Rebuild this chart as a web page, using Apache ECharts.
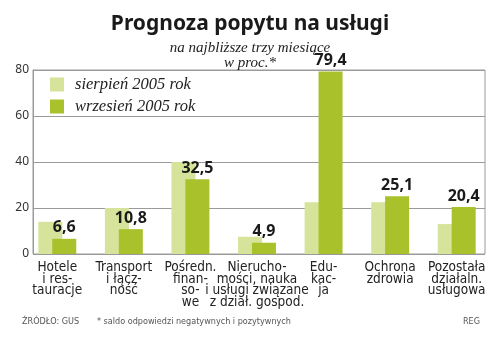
<!DOCTYPE html>
<html>
<head>
<meta charset="utf-8">
<script src="https://cdn.jsdelivr.net/npm/echarts@6/dist/echarts.min.js"></script>
<style>
html,body{margin:0;padding:0;background:#fff;}
#c{width:500px;height:337px;}
</style>
</head>
<body>
<div id="c"></div>
<script>
var categories = [
  "Hotele\ni res-\ntauracje",
  "Transport\ni łącz-\nność",
  "Pośredn.\nfinan-\nso-\nwe",
  "Nierucho-\nmości, nauka\ni usługi związane\nz dział. gospod.",
  "Edu-\nkac-\nja",
  "Ochrona\nzdrowia",
  "Pozostała\ndziałaln.\nusługowa"
];
var seriesNames = ["sierpień 2005 rok", "wrzesień 2005 rok"];
var august = [14, 20, 40, 7.5, 22.5, 22.5, 13];
var september = [6.6, 10.8, 32.5, 4.9, 79.4, 25.1, 20.4];
var yTicks = [0, 20, 40, 60, 80];

var LIGHT = '#d6e39a';
var DARK = '#a9c12b';
var labelFont = '"DejaVu Sans Condensed", "DejaVu Sans", sans-serif';

var chart = echarts.init(document.getElementById('c'), null, {renderer: 'canvas'});
chart.setOption({
  backgroundColor: '#ffffff',
  animation: false,
  title: [
    {text: 'Prognoza popytu na usługi', left: 'center', top: 9,
     textStyle: {fontFamily: '"Noto Sans", sans-serif', fontWeight: 'bold', fontSize: 21, color: '#1a1a1a'}},
    {text: 'na najbliższe trzy miesiące\nw proc.*', left: 'center', top: 36,
     textStyle: {fontFamily: '"Liberation Serif", serif', fontStyle: 'italic', fontWeight: 'normal', fontSize: 15, lineHeight: 15, color: '#222', align: 'center'}},
    {text: 'ŹRÓDŁO: GUS', left: 17, top: 312,
     textStyle: {fontFamily: labelFont, fontWeight: 'normal', fontSize: 9, color: '#555'}},
    {text: '* saldo odpowiedzi negatywnych i pozytywnych', left: 92, top: 312,
     textStyle: {fontFamily: labelFont, fontWeight: 'normal', fontSize: 9, color: '#555'}},
    {text: 'REG', right: 15, top: 312,
     textStyle: {fontFamily: labelFont, fontWeight: 'normal', fontSize: 9, color: '#555'}}
  ],
  legend: {
    data: seriesNames,
    orient: 'vertical',
    left: 45, top: 71,
    itemWidth: 14, itemHeight: 14, itemGap: 5,
    icon: 'rect',
    textStyle: {fontFamily: '"Liberation Serif", serif', fontStyle: 'italic', fontSize: 16.5, color: '#222', padding: [0,0,0,6]}
  },
  grid: [
    {left: 33, right: 15, top: 70, bottom: 83, show: true, borderColor: '#9a9a9a', borderWidth: 1, backgroundColor: 'transparent'},
    {left: 24, right: 10, top: 70, bottom: 83}
  ],
  xAxis: [
    {type: 'category', gridIndex: 0, data: categories, show: false},
    {type: 'category', gridIndex: 1, data: categories,
     axisLine: {show: false}, axisTick: {show: false},
     axisLabel: {interval: 0, margin: 8, fontFamily: labelFont, fontSize: 13.5, lineHeight: 11.5, color: '#222'}}
  ],
  yAxis: [
    {type: 'value', gridIndex: 0, min: yTicks[0], max: yTicks[yTicks.length-1], interval: 20,
     axisLine: {show: true, lineStyle: {color: '#9a9a9a'}},
     axisTick: {show: false},
     splitLine: {show: true, lineStyle: {color: '#9a9a9a', width: 1}},
     axisLabel: {margin: 4, fontFamily: '"Noto Sans", sans-serif', fontSize: 12, color: '#333'}},
    {type: 'value', gridIndex: 1, min: yTicks[0], max: yTicks[yTicks.length-1], interval: 20, show: false,
     splitLine: {show: false}}
  ],
  series: [
    {name: seriesNames[0], type: 'bar', xAxisIndex: 1, yAxisIndex: 1, data: august,
     barWidth: 24, barGap: '-42%', itemStyle: {color: LIGHT}},
    {name: seriesNames[1], type: 'bar', xAxisIndex: 1, yAxisIndex: 1, data: september,
     barWidth: 24, itemStyle: {color: DARK},
     label: {show: true, position: 'top', distance: 3,
       formatter: function(p){ return String(p.value).replace('.', ','); },
       fontFamily: '"Noto Sans", sans-serif', fontWeight: 'bold', fontSize: 16, color: '#1a1a1a'}}
  ]
});
</script>
</body>
</html>
